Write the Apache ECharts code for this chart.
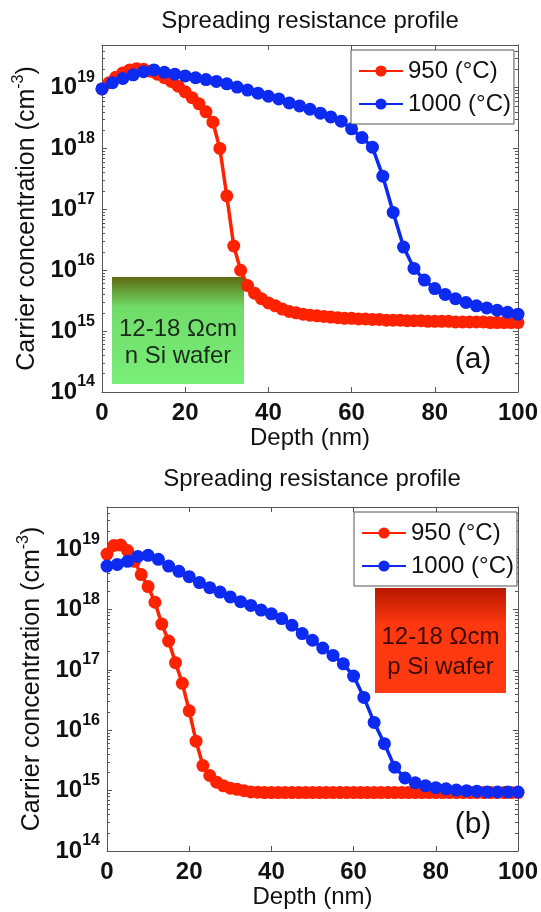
<!DOCTYPE html>
<html><head><meta charset="utf-8">
<script src="https://cdn.jsdelivr.net/npm/echarts@6/dist/echarts.min.js"></script>
<style>html,body{margin:0;padding:0;background:#fff}#c{width:541px;height:912px}</style>
</head><body><div id="c"></div>
<script>
// ---------- data ----------
const seriesNames = ['950 (°C)', '1000 (°C)'];
const xTicks = [0, 20, 40, 60, 80, 100];
// depth (nm) sampling of the 950 °C profiles
const depth950 = [0,1.67,3.33,5,6.67,8.33,10,11.67,13.33,15,16.67,18.33,20,21.67,23.33,25,26.67,28.33,30,31.67,33.33,35,36.67,38.33,40,41.67,43.33,45,46.67,48.33,50,51.67,53.33,55,56.67,58.33,60,61.67,63.33,65,66.67,68.33,70,71.67,73.33,75,76.67,78.33,80,81.67,83.33,85,86.67,88.33,90,91.67,93.33,95,96.67,98.33,100];
// depth (nm) sampling of the 1000 °C profiles
const depth1000 = [0,2.5,5,7.5,10,12.5,15,17.5,20,22.5,25,27.5,30,32.5,35,37.5,40,42.5,45,47.5,50,52.5,55,57.5,60,62.5,65,67.5,70,72.5,75,77.5,80,82.5,85,87.5,90,92.5,95,97.5,100];

// (a) n-Si wafer, carrier concentration (cm^-3)
const conc950a = [9.5e18,1.2e19,1.48e19,1.74e19,1.95e19,2.04e19,2.0e19,1.86e19,1.66e19,1.45e19,
  1.26e19,1.05e19,8.5e18,6.8e18,5.4e18,4.0e18,2.7e18,1.0e18,1.66e17,2.5e16,
  1.0e16,5.6e15,4.2e15,3.4e15,2.9e15,2.6e15,2.3e15,2.1e15,2.0e15,1.9e15,
  1.82e15,1.78e15,1.74e15,1.7e15,1.66e15,1.62e15,1.62e15,1.58e15,1.58e15,1.55e15,
  1.55e15,1.51e15,1.51e15,1.51e15,1.48e15,1.48e15,1.48e15,1.45e15,1.45e15,1.45e15,
  1.45e15,1.41e15,1.41e15,1.41e15,1.41e15,1.41e15,1.38e15,1.38e15,1.38e15,1.38e15,1.38e15];
const conc1000a = [9.5e18,1.2e19,1.41e19,1.62e19,1.82e19,1.95e19,1.78e19,1.66e19,1.55e19,1.45e19,
  1.35e19,1.26e19,1.15e19,1.02e19,9.1e18,8.1e18,7.2e18,6.5e18,5.6e18,5.0e18,
  4.4e18,3.8e18,3.3e18,2.8e18,2.1e18,1.51e18,1.05e18,3.5e17,8.9e16,2.4e16,
  1.07e16,6.9e15,5.0e15,4.0e15,3.4e15,2.95e15,2.6e15,2.4e15,2.2e15,2.04e15,1.9e15];

// (b) p-Si wafer, carrier concentration (cm^-3)
const conc950b = [8.3e18,1.15e19,1.17e19,9.5e18,6.3e18,3.8e18,2.4e18,1.32e18,5.75e17,3.0e17,
  1.32e17,6.0e16,2.1e16,6.6e15,2.6e15,1.78e15,1.38e15,1.2e15,1.1e15,1.05e15,
  1.0e15,9.5e14,9.4e14,9.3e14,9.3e14,9.3e14,9.3e14,9.3e14,9.3e14,9.3e14,
  9.3e14,9.3e14,9.3e14,9.3e14,9.3e14,9.3e14,9.3e14,9.3e14,9.3e14,9.3e14,
  9.3e14,9.3e14,9.3e14,9.3e14,9.3e14,9.3e14,9.3e14,9.3e14,9.3e14,9.3e14,
  9.3e14,9.3e14,9.3e14,9.3e14,9.3e14,9.3e14,9.3e14,9.3e14,9.3e14,9.3e14,9.3e14];
const conc1000b = [5.25e18,5.6e18,6.3e18,7.6e18,7.9e18,6.8e18,5.25e18,4.3e18,3.5e18,2.8e18,
  2.3e18,1.95e18,1.62e18,1.35e18,1.17e18,9.8e17,8.5e17,7.1e17,5.5e17,4.0e17,
  3.1e17,2.3e17,1.74e17,1.26e17,7.9e16,3.5e16,1.35e16,6.0e15,2.45e15,1.62e15,
  1.35e15,1.2e15,1.12e15,1.07e15,1.02e15,1.0e15,9.8e14,9.5e14,9.5e14,9.5e14,9.5e14];

const yMin = 1e14, yMax = 5e19;
const xMin = 0, xMax = 100, xStep = 20;

// ---------- styling ----------
const FF = '"Liberation Sans", Arial, sans-serif';
const RED = '#ff2200', BLUE = '#0c2af0';
const AX = '#555';

const chart = echarts.init(document.getElementById('c'), null, {renderer: 'canvas'});

function pair(arrX, arrY) { return arrX.map((x, i) => [x, arrY[i]]); }

function xAxisPair(gi) {
  const base = {
    gridIndex: gi, type: 'value', min: xMin, max: xMax, interval: xStep,
    splitLine: {show: false},
    axisLine: {show: true, onZero: false, lineStyle: {color: AX, width: 1}},
    axisTick: {show: true, inside: true, length: 5, lineStyle: {color: AX}}
  };
  return [
    Object.assign({}, base, {
      position: 'bottom',
      axisLabel: {fontSize: 24, fontWeight: 'bold', fontFamily: FF, color: '#111', margin: 9,
        formatter: v => xTicks.includes(v) ? String(v) : ''},
      name: 'Depth (nm)', nameLocation: 'middle', nameGap: 31,
      nameTextStyle: {fontSize: 24, fontFamily: FF, color: '#111'}
    }),
    Object.assign({}, base, {position: 'top', axisLabel: {show: false}})
  ];
}

function yLabel(v) {
  const e = Math.log10(v);
  const r = Math.round(e);
  if (Math.abs(e - r) > 0.01) return '';
  return '{b|10}{e|' + r + '}';
}

function yAxisPair(gi) {
  const base = {
    gridIndex: gi, type: 'log', logBase: 10, min: yMin, max: yMax,
    splitLine: {show: false},
    axisLine: {show: true, onZero: false, lineStyle: {color: AX, width: 1}},
    axisTick: {show: true, inside: true, length: 5, lineStyle: {color: AX}},
    minorTick: {show: true, splitNumber: 9, length: 3, lineStyle: {color: AX}}
  };
  return [
    Object.assign({}, base, {
      position: 'left',
      axisLabel: {
        margin: 7, formatter: yLabel, fontFamily: FF, color: '#111', showMaxLabel: false,
        rich: {
          b: {fontSize: 24, fontWeight: 'bold', fontFamily: FF, color: '#111', lineHeight: 36},
          e: {fontSize: 16, fontWeight: 'bold', fontFamily: FF, color: '#111', lineHeight: 16, verticalAlign: 'top'}
        }
      },
      name: '{n|Carrier concentration (cm}{s|-3}{n|)}',
      nameLocation: 'middle', nameGap: 55, nameRotate: 90,
      nameTextStyle: {
        rich: {
          n: {fontSize: 25, fontFamily: FF, color: '#111', lineHeight: 34},
          s: {fontSize: 16, fontFamily: FF, color: '#111', lineHeight: 16, verticalAlign: 'top'}
        }
      }
    }),
    Object.assign({}, base, {position: 'right', axisLabel: {show: false}})
  ];
}

function lineSeries(name, color, data, xi, yi) {
  return {
    name: name, type: 'line', xAxisIndex: xi, yAxisIndex: yi, data: data,
    symbol: 'circle', symbolSize: 13, showSymbol: true,
    lineStyle: {color: color, width: 3.5}, itemStyle: {color: color},
    emphasis: {disabled: true}, animation: false, z: 5
  };
}

function legendAt(left, top) {
  return {
    left: left, top: top, orient: 'vertical', data: seriesNames,
    itemWidth: 44, itemHeight: 14, itemGap: 9, padding: [9, 3, 8, 7],
    borderColor: AX, borderWidth: 1, backgroundColor: '#fff',
    textStyle: {fontSize: 24, fontFamily: FF, color: '#111'},
    selectedMode: false, z: 10
  };
}

function gradBox(x, y, w, h, stops, lines, ly, textColor) {
  const els = [{
    type: 'rect', z: 1,
    shape: {x: x, y: y, width: w, height: h},
    style: {fill: new echarts.graphic.LinearGradient(0, 0, 0, 1, stops)}
  }];
  lines.forEach((t, i) => {
    els.push({type: 'text', z: 2, x: x + w / 2, y: ly[i],
      style: {text: t, font: '24px ' + FF, fill: textColor, align: 'center', verticalAlign: 'middle',
        textAlign: 'center', textVerticalAlign: 'middle'}});
  });
  return els;
}

function txt(t, x, y, size) {
  return {type: 'text', z: 3, x: x, y: y,
    style: {text: t, font: size + 'px ' + FF, fill: '#111', align: 'center', verticalAlign: 'middle',
      textAlign: 'center', textVerticalAlign: 'middle'}};
}

const xa = xAxisPair(0).concat(xAxisPair(1));
const ya = yAxisPair(0).concat(yAxisPair(1));

const option = {
  backgroundColor: '#fff',
  animation: false,
  grid: [
    {left: 102, top: 45, right: 22, bottom: 520, containLabel: false},
    {left: 107, top: 507, right: 17, bottom: 61, containLabel: false}
  ],
  xAxis: xa,
  yAxis: ya,
  legend: [legendAt(351, 50), legendAt(354, 512)],
  series: [
    lineSeries(seriesNames[0], RED, pair(depth950, conc950a), 0, 0),
    lineSeries(seriesNames[1], BLUE, pair(depth1000, conc1000a), 0, 0),
    lineSeries(seriesNames[0], RED, pair(depth950, conc950b), 2, 2),
    lineSeries(seriesNames[1], BLUE, pair(depth1000, conc1000b), 2, 2)
  ],
  graphic: [].concat(
    [txt('Spreading resistance profile', 310, 21, 24), txt('Spreading resistance profile', 312, 479, 24)],
    gradBox(112, 277, 132, 107,
      [{offset: 0, color: '#5e6a10'}, {offset: 0.28, color: '#70dc68'}, {offset: 1, color: '#7aee7a'}],
      ['12-18 \u03A9cm', 'n Si wafer'], [329, 356], '#1a2a1a'),
    gradBox(375, 588, 131, 105,
      [{offset: 0, color: '#b81800'}, {offset: 0.35, color: '#ff3810'}, {offset: 1, color: '#ff3a10'}],
      ['12-18 \u03A9cm', 'p Si wafer'], [637, 667], '#3a0a00'),
    [txt('(a)', 473, 360, 30), txt('(b)', 473, 825, 30)]
  )
};
chart.setOption(option);
</script></body></html>
